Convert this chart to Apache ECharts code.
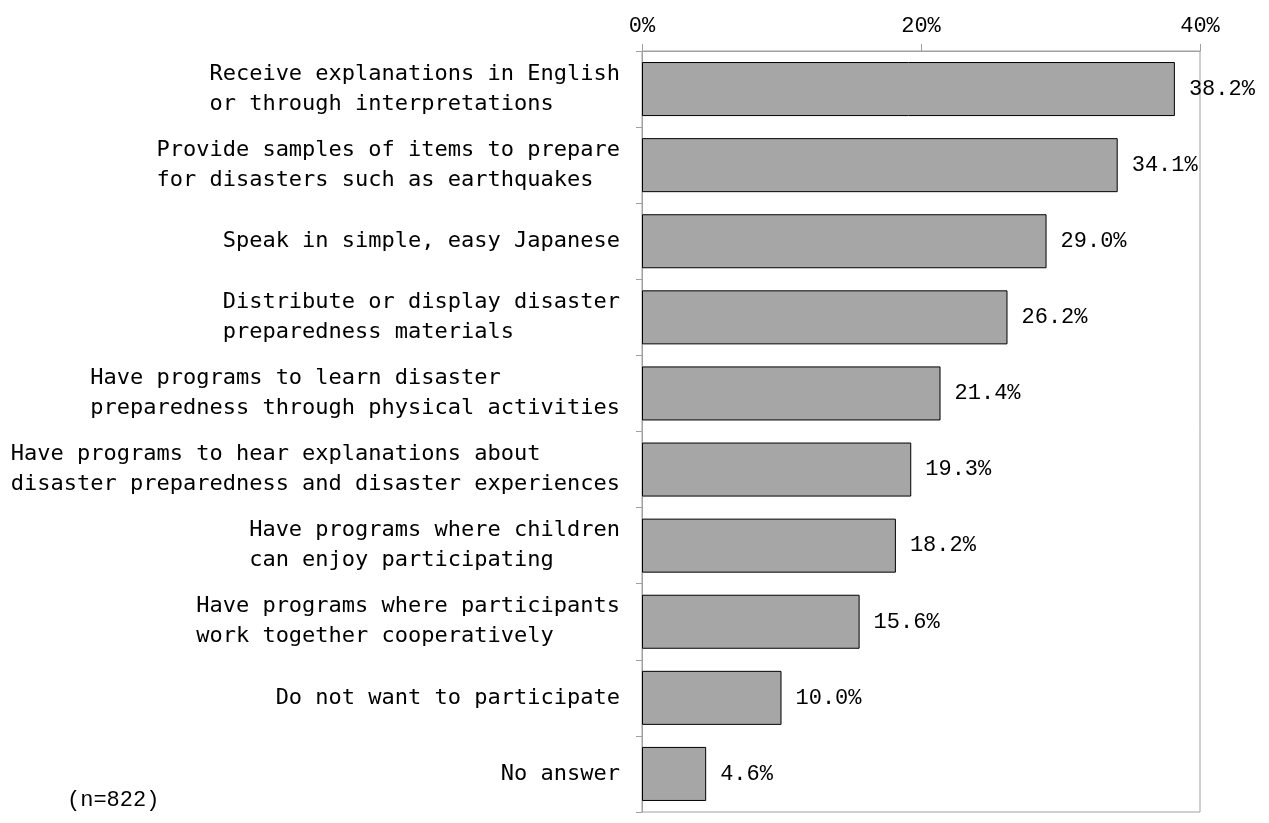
<!DOCTYPE html>
<html>
<head>
<meta charset="utf-8">
<script src="https://cdn.jsdelivr.net/npm/echarts@6/dist/echarts.min.js"></script>
<style>html,body{margin:0;padding:0;background:#fff;}#c{width:1269px;height:823px;}</style>
</head>
<body>
<div id="c"></div>
<script>
var categories = [
  "Receive explanations in English\nor through interpretations",
  "Provide samples of items to prepare\nfor disasters such as earthquakes",
  "Speak in simple, easy Japanese",
  "Distribute or display disaster\npreparedness materials",
  "Have programs to learn disaster\npreparedness through physical activities",
  "Have programs to hear explanations about\ndisaster preparedness and disaster experiences",
  "Have programs where children\ncan enjoy participating",
  "Have programs where participants\nwork together cooperatively",
  "Do not want to participate",
  "No answer"
];
var values = [38.2, 34.1, 29.0, 26.2, 21.4, 19.3, 18.2, 15.6, 10.0, 4.6];
var xTicks = [0, 20, 40];
var sampleNote = "(n=822)";

// pad lines so multi-line labels are left-aligned within a right-aligned block (monospace font)
function padLabel(s) {
  var lines = s.split("\n");
  var m = Math.max.apply(null, lines.map(function (l) { return l.length; }));
  return lines.map(function (l) { while (l.length < m) l += " "; return l; }).join("\n");
}
var labels = categories.map(padLabel);

var FONT = "DejaVu Sans Mono";
var NUMFONT = "Liberation Mono";
var chart = echarts.init(document.getElementById('c'));
chart.setOption({
  backgroundColor: '#fff',
  animation: false,
  title: {
    text: sampleNote, left: 62, top: 784,
    textStyle: { fontFamily: NUMFONT, fontSize: 22, fontWeight: 'normal', color: '#000' }
  },
  grid: { left: 642, right: 69, top: 51, bottom: 11, show: true, borderColor: '#a0a0a0', borderWidth: 1 },
  xAxis: {
    type: 'value', position: 'top', min: xTicks[0], max: xTicks[xTicks.length - 1], interval: 20,
    axisLine: { show: true, lineStyle: { color: '#a0a0a0', width: 1 } },
    axisTick: { show: true, length: 7, lineStyle: { color: '#a0a0a0' } },
    splitLine: { show: false },
    axisLabel: { formatter: '{value}%', fontFamily: NUMFONT, fontSize: 22, color: '#000', margin: 14 }
  },
  yAxis: {
    type: 'category', data: labels, inverse: true,
    axisLine: { show: true, lineStyle: { color: '#a0a0a0', width: 1 } },
    axisTick: { show: true, length: 6, lineStyle: { color: '#a0a0a0' } },
    axisLabel: { fontFamily: FONT, fontSize: 22, color: '#000', margin: 22, lineHeight: 30, align: 'right' }
  },
  series: [{
    type: 'bar', data: values, barCategoryGap: '29%',
    itemStyle: { color: '#a6a6a6', borderColor: '#000', borderWidth: 1 },
    label: {
      show: true, position: 'right', distance: 14,
      fontFamily: NUMFONT, fontSize: 22, color: '#000',
      formatter: function (p) { return p.value.toFixed(1) + '%'; }
    }
  }]
});
</script>
</body>
</html>
